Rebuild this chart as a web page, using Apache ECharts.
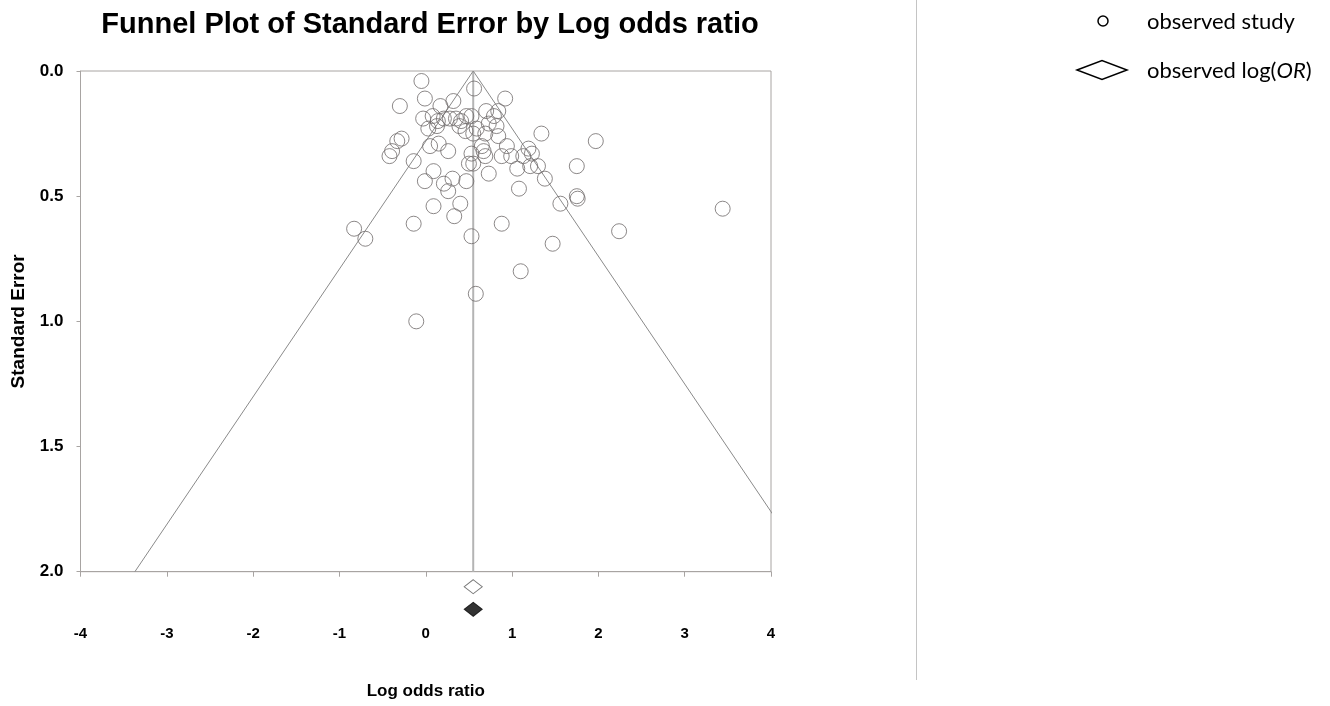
<!DOCTYPE html>
<html>
<head>
<meta charset="utf-8">
<script src="https://cdn.jsdelivr.net/npm/echarts@6/dist/echarts.min.js"></script>
<style>
html,body{margin:0;padding:0;background:#fff;}
#chart{width:1330px;height:706px;}
</style>
</head>
<body>
<div id="chart"></div>
<script>
// ---- data ----
var chartTitle = 'Funnel Plot of Standard Error by Log odds ratio';
var xTitle = 'Log odds ratio';
var yTitle = 'Standard Error';
var legendLabels = ['observed study', 'observed log(OR)'];

// each study: [log odds ratio, standard error]
var studies = [
  [-0.05,0.04],[0.56,0.07],[-0.01,0.11],[0.92,0.11],[-0.30,0.14],[0.32,0.12],[0.17,0.14],
  [0.70,0.16],[0.84,0.16],[0.53,0.18],[0.79,0.18],[-0.03,0.19],[0.08,0.18],[0.14,0.20],
  [0.21,0.19],[0.28,0.19],[0.35,0.19],[0.41,0.20],[0.47,0.18],[0.03,0.23],[0.13,0.22],
  [0.39,0.22],[0.46,0.24],[0.59,0.23],[0.69,0.25],[0.55,0.25],[0.82,0.22],[0.73,0.21],
  [0.84,0.26],[1.34,0.25],[-0.28,0.27],[-0.33,0.28],[-0.39,0.32],[-0.42,0.34],[0.05,0.30],
  [0.15,0.29],[0.26,0.32],[0.65,0.30],[0.67,0.32],[0.94,0.30],[0.88,0.34],[0.99,0.34],
  [1.19,0.31],[1.13,0.34],[1.23,0.33],[0.53,0.33],[-0.14,0.36],[0.50,0.37],[0.55,0.37],
  [0.69,0.34],[1.06,0.39],[1.21,0.38],[1.30,0.38],[0.73,0.41],[0.09,0.40],[-0.01,0.44],
  [0.21,0.45],[0.31,0.43],[0.26,0.48],[0.47,0.44],[1.38,0.43],[1.08,0.47],[1.56,0.53],
  [1.75,0.50],[1.76,0.51],[1.97,0.28],[1.75,0.38],[3.44,0.55],[2.24,0.64],[0.09,0.54],
  [0.40,0.53],[0.33,0.58],[-0.14,0.61],[0.88,0.61],[-0.83,0.63],[-0.70,0.67],[0.53,0.66],
  [1.47,0.69],[1.10,0.80],[0.58,0.89],[-0.11,1.00]
];

var pooledEstimate = 0.55;                    // observed log(OR)
var centerLine   = [[0.55, 0], [0.55, 2]];
var funnelLeft   = [[0.55, 0], [-3.37, 2]];
var funnelRight  = [[0.55, 0], [4.47, 2]];
var diamondOpen  = [[0.55, 2.06]];
var diamondFill  = [[0.55, 2.15]];

var xTicks = [-4, -3, -2, -1, 0, 1, 2, 3, 4];
var yTicks = [0, 0.5, 1.0, 1.5, 2.0];

// ---- chart ----
var chart = echarts.init(document.getElementById('chart'), null, {renderer: 'canvas'});
var axisGray = '#a8a4a2';
var boldFont = '"Liberation Sans", Arial, sans-serif';
var legendFont = 'Lato, "Open Sans", sans-serif';

var option = {
  animation: false,
  backgroundColor: '#ffffff',
  title: {
    text: chartTitle,
    left: 425, top: 5,
    textAlign: 'center',
    textStyle: {fontFamily: boldFont, fontWeight: 'bold', fontSize: 29, color: '#000'}
  },
  grid: {
    left: 80.5, right: 559, top: 71, bottom: 134.3,
    show: true, borderColor: axisGray, borderWidth: 1,
    containLabel: false
  },
  xAxis: {
    type: 'value',
    min: xTicks[0], max: xTicks[xTicks.length - 1], interval: 1,
    name: xTitle, nameLocation: 'middle', nameGap: 111,
    nameTextStyle: {fontFamily: boldFont, fontWeight: 'bold', fontSize: 17, color: '#000'},
    axisLine: {show: true, onZero: false, lineStyle: {color: axisGray, width: 1}},
    axisTick: {show: true, length: 5, lineStyle: {color: axisGray}},
    axisLabel: {margin: 55, fontFamily: boldFont, fontWeight: 'bold', fontSize: 15, color: '#000',
      showMinLabel: true, showMaxLabel: true},
    splitLine: {show: false}
  },
  yAxis: {
    type: 'value', inverse: true,
    min: yTicks[0], max: yTicks[yTicks.length - 1], interval: 0.5,
    name: yTitle, nameLocation: 'middle', nameGap: 52, nameRotate: 90,
    nameTextStyle: {fontFamily: boldFont, fontWeight: 'bold', fontSize: 19, color: '#000'},
    axisLine: {show: true, onZero: false, lineStyle: {color: axisGray, width: 1}},
    axisTick: {show: true, length: 4, lineStyle: {color: axisGray}},
    axisLabel: {margin: 17, fontFamily: boldFont, fontWeight: 'bold', fontSize: 17, color: '#000',
      formatter: function (v) { return v.toFixed(1); }},
    splitLine: {show: false}
  },
  series: [
    {
      type: 'line', data: centerLine, symbol: 'none', silent: true,
      lineStyle: {color: '#b4b4b4', width: 2}, clip: true, z: 1
    },
    {
      type: 'line', data: funnelLeft, symbol: 'none', silent: true,
      lineStyle: {color: '#8a8a8a', width: 1}, clip: true, z: 1
    },
    {
      type: 'line', data: funnelRight, symbol: 'none', silent: true,
      lineStyle: {color: '#8a8a8a', width: 1}, clip: true, z: 1
    },
    {
      type: 'scatter', data: studies, symbol: 'circle', symbolSize: 15, silent: true,
      itemStyle: {color: 'rgba(255,255,255,0)', borderColor: '#6f6a6a', borderWidth: 1},
      z: 3
    },
    {
      type: 'scatter', data: diamondOpen, symbol: 'diamond', symbolSize: [18, 14], silent: true,
      clip: false,
      itemStyle: {color: '#ffffff', borderColor: '#555', borderWidth: 1}, z: 4
    },
    {
      type: 'scatter', data: diamondFill, symbol: 'diamond', symbolSize: [18, 14], silent: true,
      clip: false,
      itemStyle: {color: '#000000', borderColor: '#000', borderWidth: 1}, z: 4
    }
  ],
  graphic: [
    {type: 'line', shape: {x1: 916.5, y1: 0, x2: 916.5, y2: 680}, style: {stroke: '#c4c4c4', lineWidth: 1}, silent: true},
    {type: 'circle', shape: {cx: 1103, cy: 21, r: 5}, style: {fill: '#fff', stroke: '#000', lineWidth: 1.5}, silent: true},
    {type: 'text', left: 1147, top: 11, style: {text: legendLabels[0], fill: '#000', font: '22px ' + legendFont}, silent: true},
    {type: 'polygon', shape: {points: [[1077, 70], [1102, 60.5], [1127, 70], [1102, 79.5]]}, style: {fill: '#fff', stroke: '#000', lineWidth: 1.5}, silent: true},
    {type: 'text', left: 1147, top: 60, style: {
      text: '{n|observed log(}{i|OR}{n|)}',
      rich: {
        n: {fill: '#000', fontFamily: legendFont, fontSize: 22},
        i: {fill: '#000', fontFamily: legendFont, fontSize: 22, fontStyle: 'italic'}
      }
    }, silent: true}
  ]
};
chart.setOption(option);
</script>
</body>
</html>
